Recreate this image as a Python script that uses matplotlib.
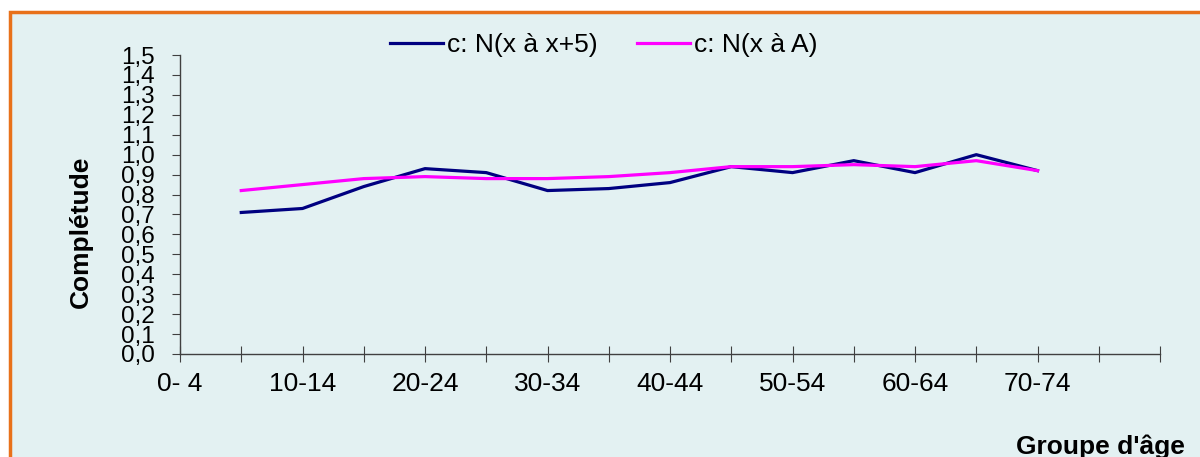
import matplotlib.pyplot as plt
from matplotlib.patches import Rectangle

# age groups on the category axis (ticks sit on the categories)
groups = ["0- 4", "5-9", "10-14", "15-19", "20-24", "25-29", "30-34", "35-39",
          "40-44", "45-49", "50-54", "55-59", "60-64", "65-69", "70-74", "75-79"]
shown = ["0- 4", "10-14", "20-24", "30-34", "40-44", "50-54", "60-64", "70-74"]

# completeness estimates, 5-9 through 70-74
c_x5 = [0.71, 0.73, 0.84, 0.93, 0.91, 0.82, 0.83, 0.86, 0.94, 0.91, 0.97, 0.91, 1.00, 0.92]
c_xA = [0.82, 0.85, 0.88, 0.89, 0.88, 0.88, 0.89, 0.91, 0.94, 0.94, 0.95, 0.94, 0.97, 0.92]
first = groups.index("5-9")

yticks = [i / 10 for i in range(16)]

bg = "#e3f1f2"
plt.rcParams['font.family'] = ['Liberation Sans', 'DejaVu Sans']

fig = plt.figure(figsize=(12, 4.57), dpi=100, facecolor="white")
fig.patches.append(Rectangle((10 / 1200, -0.05), 1.1, 1 - 12 / 457 + 0.05,
                             transform=fig.transFigure, facecolor=bg,
                             edgecolor="#e8711a", linewidth=2.5, zorder=-1))

ax = fig.add_axes([0.15, 0.2254, 0.8167, 0.6542])
ax.set_facecolor("none")

xs = list(range(first, first + len(c_x5)))
ax.plot(xs, c_x5, color="#000080", lw=2.3, label="c: N(x à x+5)")
ax.plot(xs, c_xA, color="#ff00ff", lw=2.3, label="c: N(x à A)")

ax.set_xlim(0, len(groups))
ax.set_ylim(0, 1.5)
ax.set_xticks(range(len(groups) + 1))
ax.set_xticklabels([g if g in shown else "" for g in groups] + [""], fontsize=19)
ax.set_yticks(yticks)
ax.set_yticklabels([f"{v:.1f}".replace(".", ",") for v in yticks], fontsize=17.5)

for s in ["top", "right"]:
    ax.spines[s].set_visible(False)
for s in ["left", "bottom"]:
    ax.spines[s].set_color("#404040")
    ax.spines[s].set_linewidth(1)
ax.tick_params(axis="x", direction="inout", length=12, color="#404040", pad=7)
ax.tick_params(axis="y", direction="out", length=6, color="#404040", pad=12)

ax.set_ylabel("Complétude", fontsize=19, fontweight="bold", labelpad=0)
ax.yaxis.set_label_coords(-0.089, 0.41)
fig.text(1185 / 1200, 1 - 447 / 457, "Groupe d'âge", fontsize=19, fontweight="bold",
         ha="right", va="center")

ax.legend(loc="center", bbox_to_anchor=((604 - 180) / 980, 1 + 10 / 299), ncol=2,
          frameon=False, fontsize=19, handlelength=2.0, handletextpad=0.15,
          columnspacing=1.5)

fig.savefig("out.png", dpi=100, facecolor="white")
